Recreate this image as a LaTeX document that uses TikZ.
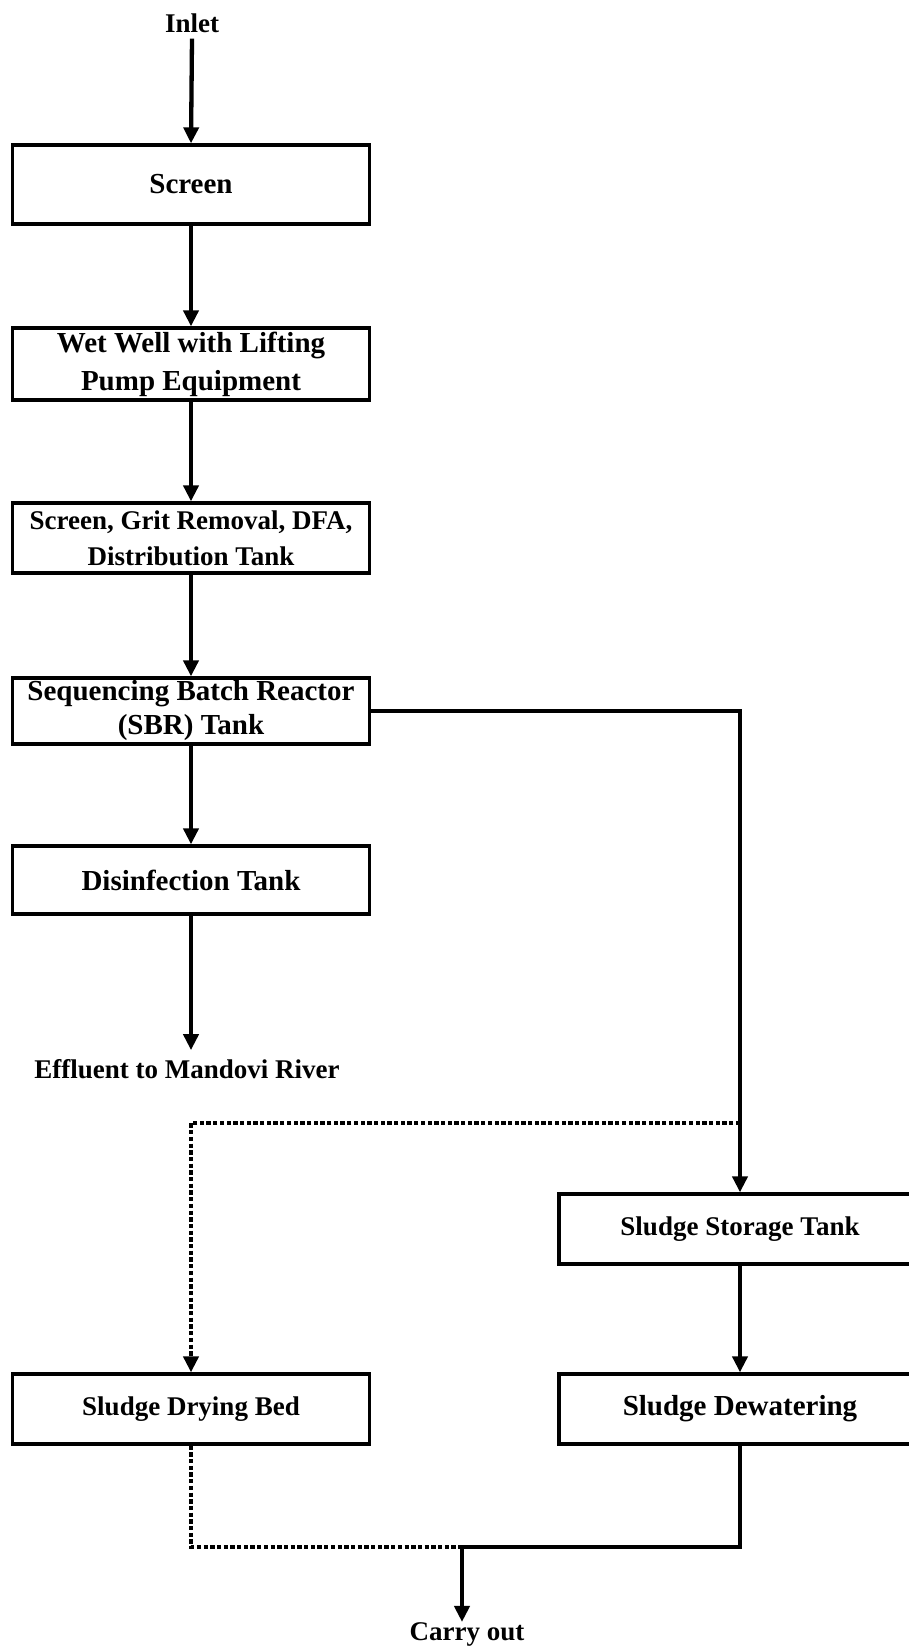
\documentclass[tikz,border=0pt]{standalone}
\usepackage{fontspec}
\setmainfont{Liberation Serif}
\usetikzlibrary{arrows.meta}
\begin{document}
\begin{tikzpicture}[x=1pt,y=-1pt,
  box/.style={draw, line width=3.3pt, minimum width=357pt, inner sep=0pt,
    align=center, font=\bfseries\fontsize{29}{36}\selectfont},
  smallbox/.style={box, font=\bfseries\fontsize{27}{34}\selectfont},
  tip/.style={-{Triangle[width=15pt,length=16pt]}},
  flow/.style={line width=4.3pt, tip},
  link/.style={line width=4pt},
  dotline/.style={line width=4pt, dash pattern=on 4.3pt off 2.4pt},
  caption/.style={inner sep=0pt, font=\bfseries\fontsize{27}{32}\selectfont}]
\useasboundingbox (0,0) rectangle (909,1648);
\clip (0,0) rectangle (909,1648);

% main treatment line
\node[caption] (inlet) at (192,23) {Inlet};
\node[box, minimum height=79pt] (screen) at (191,184.5) {Screen};
\node[box, minimum height=72pt, font=\bfseries\fontsize{29}{38}\selectfont]
  (wetwell) at (191,364) {Wet Well with Lifting\\Pump Equipment};
\node[smallbox, minimum height=70pt, font=\bfseries\fontsize{27}{36}\selectfont]
  (grit) at (191,538) {Screen, Grit Removal, DFA,\\Distribution Tank};
\node[box, minimum height=66pt, font=\bfseries\fontsize{29}{34}\selectfont]
  (sbr) at (191,711) {Sequencing Batch Reactor\\(SBR) Tank};
\node[box, minimum height=68pt] (disinf) at (191,880) {Disinfection Tank};
\node[caption] (effluent) at (187,1069) {Effluent to Mandovi River};

% sludge line
\node[smallbox, minimum width=362pt, minimum height=70pt] (storage) at (740,1229) {Sludge Storage Tank};
\node[smallbox, minimum height=70pt] (drying) at (191,1409) {Sludge Drying Bed};
\node[box, minimum width=362pt, minimum height=70pt] (dewater) at (740,1409) {Sludge Dewatering};
\node[caption] (carry) at (467,1634) {Carry out};

\coordinate (split) at (740,711);
\coordinate (branch) at (740,1123);
\coordinate (join) at (462,1547);

\draw[flow] ([yshift=-6pt]inlet.south) -- (screen.north);
\draw[flow] (screen.south) -- (wetwell.north);
\draw[flow] (wetwell.south) -- (grit.north);
\draw[flow] (grit.south) -- (sbr.north);
\draw[flow] (sbr.south) -- (disinf.north);
\draw[flow] (disinf.south) -- ([yshift=9pt]disinf.south |- effluent.north);

\draw[dotline, tip]
  (branch) -- (drying.north |- branch) -- (drying.north);
\draw[link, tip] (sbr.east) -- (split) -- (storage.north);
\draw[flow] (storage.south) -- (dewater.north);

\draw[dotline] (drying.south) -- (drying.south |- join) -- (join);
\draw[link] (dewater.south) -- (dewater.south |- join) -- (join);
\draw[flow] (join) -- (join |- carry.north);
\end{tikzpicture}
\end{document}
